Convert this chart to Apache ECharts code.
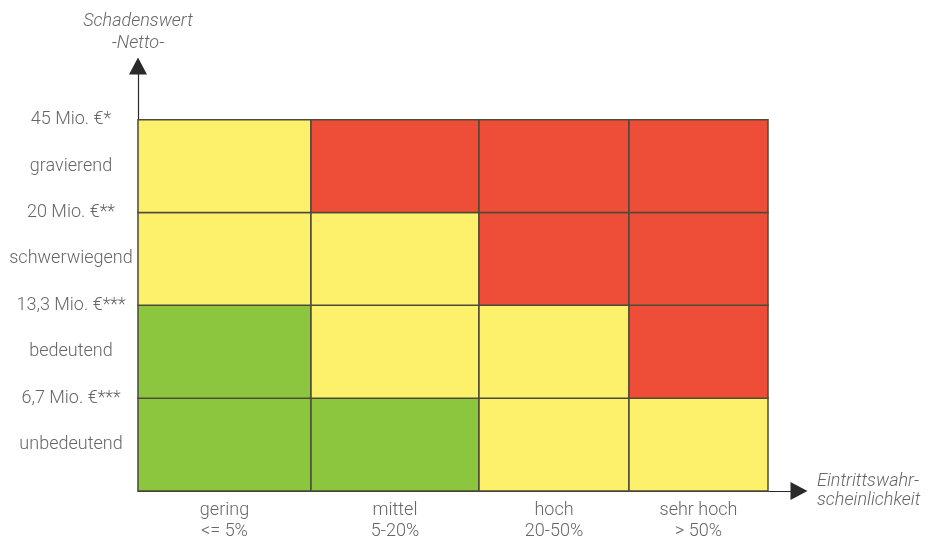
<!DOCTYPE html>
<html>
<head>
<meta charset="utf-8">
<script src="https://cdn.jsdelivr.net/npm/echarts@6/dist/echarts.min.js"></script>
<style>html,body{margin:0;padding:0;background:#fff;}#c{width:930px;height:542px;}</style>
</head>
<body>
<div id="c"></div>
<script>
// Categories
var xCategories = ['gering\n<= 5%', 'mittel\n5-20%', 'hoch\n20-50%', 'sehr hoch\n> 50%'];
var columnWidths = [173, 168, 150, 139]; // relative widths of the probability bands
var yCategories = ['unbedeutend', 'bedeutend', 'schwerwiegend', 'gravierend']; // bottom -> top
var yBoundaryLabels = ['6,7 Mio. €***', '13,3 Mio. €***', '20 Mio. €**', '45 Mio. €*']; // upper bound of each row (bottom -> top)
// Risk level per row (bottom -> top), per column: 0 green, 1 yellow, 2 red
var riskUnbedeutend   = [0, 0, 1, 1];
var riskBedeutend     = [0, 1, 1, 2];
var riskSchwerwiegend = [1, 1, 2, 2];
var riskGravierend    = [1, 2, 2, 2];
var riskColors = ['#8CC63F', '#FDF16C', '#EE4E37'];

var riskRows = [riskUnbedeutend, riskBedeutend, riskSchwerwiegend, riskGravierend];
var edges = [0];
columnWidths.forEach(function (w) { edges.push(edges[edges.length - 1] + w); });
var totalW = edges[edges.length - 1];
var data = [];
riskRows.forEach(function (row, r) {
  row.forEach(function (lvl, c) {
    data.push([edges[c], edges[c + 1], r, r + 1, lvl]);
  });
});
var centers = columnWidths.map(function (w, i) { return edges[i] + w / 2; });

var labelMap = {};
yCategories.forEach(function (n, i) { labelMap[(i + 0.5).toFixed(1)] = n; });
yBoundaryLabels.forEach(function (n, i) { labelMap[(i + 1).toFixed(1)] = n; });
var yCustom = [0.5, 1, 1.5, 2, 2.5, 3, 3.5, 4];

var font = 'Roboto';
var txt = '#666666';
var chart = echarts.init(document.getElementById('c'));
chart.setOption({
  backgroundColor: '#fff',
  animation: false,
  grid: { left: 138, right: 131, top: 66, bottom: 49, containLabel: false },
  xAxis: {
    type: 'value',
    min: 0,
    max: totalW * 661 / 630,
    splitLine: { show: false },
    axisTick: { show: false },
    axisLine: { show: true, symbol: ['none', 'triangle'], symbolSize: [18, 17], lineStyle: { color: '#2a2a2a', width: 1.2 } },
    axisLabel: {
      customValues: centers,
      formatter: function (v) {
        for (var i = 0; i < centers.length; i++) { if (Math.abs(centers[i] - v) < 0.01) return xCategories[i]; }
        return '';
      },
      color: txt, fontFamily: font, fontWeight: 300, fontSize: 18, lineHeight: 21, margin: 9
    },
    name: 'Eintrittswahr-\nscheinlichkeit',
    nameLocation: 'end',
    nameGap: 18,
    nameTextStyle: { color: txt, fontFamily: font, fontWeight: 300, fontStyle: 'italic', fontSize: 18, lineHeight: 19, align: 'left', verticalAlign: 'middle' }
  },
  yAxis: {
    type: 'value',
    min: 0,
    max: 4 * 427 / 373,
    splitLine: { show: false },
    axisTick: { show: false },
    axisLine: { show: true, symbol: ['none', 'triangle'], symbolSize: [18, 17], lineStyle: { color: '#2a2a2a', width: 1.2 } },
    axisLabel: {
      customValues: yCustom,
      formatter: function (v) { return labelMap[Number(v).toFixed(1)] || ''; },
      align: 'center',
      margin: 67,
      color: txt, fontFamily: font, fontWeight: 300, fontSize: 18
    },
    name: 'Schadenswert\n-Netto-',
    nameLocation: 'end',
    nameGap: 12,
    nameTextStyle: { color: txt, fontFamily: font, fontWeight: 300, fontStyle: 'italic', fontSize: 18, lineHeight: 22, align: 'center' }
  },
  series: [{
    type: 'custom',
    encode: { x: [0, 1], y: [2, 3] },
    data: data,
    renderItem: function (params, api) {
      var p0 = api.coord([api.value(0), api.value(3)]);
      var p1 = api.coord([api.value(1), api.value(2)]);
      return {
        type: 'rect',
        shape: { x: p0[0], y: p0[1], width: p1[0] - p0[0], height: p1[1] - p0[1] },
        style: { fill: riskColors[api.value(4)], stroke: '#4d4a3a', lineWidth: 1.5 }
      };
    }
  }]
});
</script>
</body>
</html>
